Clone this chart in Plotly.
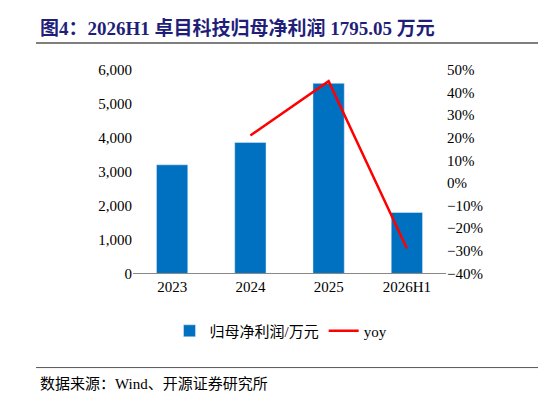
import plotly.graph_objects as go

categories = ["2023", "2024", "2025", "2026H1"]
profit = [3200, 3860, 5600, 1795.05]
yoy = [None, 21, 45, -29]

font = "Times New Roman, Liberation Serif, Noto Sans CJK SC"
fig = go.Figure()
fig.add_bar(x=categories, y=profit, name="归母净利润/万元", marker_color="#0070C0", width=0.4, yaxis="y")
fig.add_scatter(x=categories, y=yoy, name="yoy", mode="lines", line=dict(color="#FF0000", width=2.5), yaxis="y2")

fig.update_layout(
    width=546, height=406, margin=dict(l=0, r=0, t=0, b=0),
    plot_bgcolor="white", paper_bgcolor="white",
    font=dict(family=font, size=15, color="black"),
    xaxis=dict(domain=[125/546, 438/546], showline=True, linecolor="#888", ticks="", tickfont=dict(size=15)),
    yaxis=dict(domain=[(406-268)/406, (406-56)/406], range=[0, 6000], dtick=1000, tickformat=",",
               showline=False, ticks="", showgrid=False),
    yaxis2=dict(overlaying="y", side="right", range=[-40, 50], dtick=10, ticksuffix="%",
                showline=False, ticks="", showgrid=False),
    legend=dict(orientation="h", x=0.5, xanchor="center", y=(406-328)/406, yanchor="middle", font=dict(size=15)),
    showlegend=True,
)
fig.add_annotation(text="<b>图4：2026H1 卓目科技归母净利润 1795.05 万元</b>", xref="paper", yref="paper",
                   x=30/546, y=(406-12)/406, xanchor="left", yanchor="middle", showarrow=False,
                   font=dict(size=19, color="#1F1F7A", family=font))
fig.add_shape(type="line", xref="paper", yref="paper", x0=28/546, x1=1, y0=(406-28)/406, y1=(406-28)/406,
              line=dict(color="#555", width=1.5))
fig.add_shape(type="line", xref="paper", yref="paper", x0=28/546, x1=1, y0=(406-366)/406, y1=(406-366)/406,
              line=dict(color="#555", width=1))
fig.add_annotation(text="数据来源：Wind、开源证券研究所", xref="paper", yref="paper",
                   x=30/546, y=(406-383)/406, xanchor="left", yanchor="middle", showarrow=False,
                   font=dict(size=15, family=font))
fig.write_html("out.html")
